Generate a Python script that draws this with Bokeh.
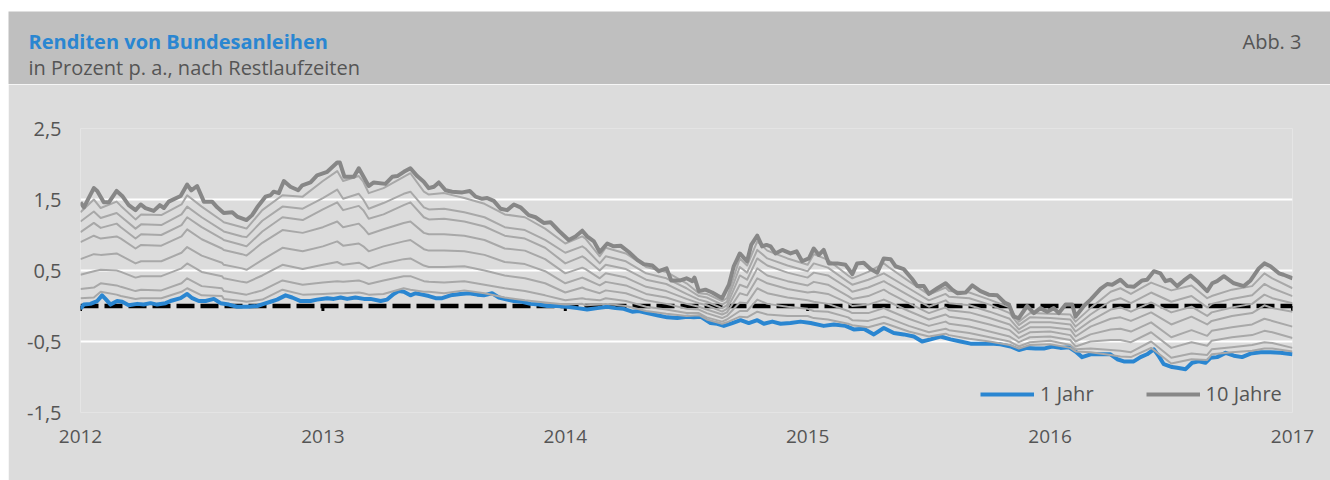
from bokeh.plotting import figure
from bokeh.models import Range1d, FixedTicker, Legend, LegendItem, Spacer
from bokeh.layouts import column, row
from bokeh.core.properties import value
from bokeh.embed import file_html
from bokeh.resources import INLINE

# ---------------- data ----------------
title = "Renditen von Bundesanleihen"
subtitle = "in Prozent p. a., nach Restlaufzeiten"
fig_label = "Abb. 3"

y_ticks = [-1.5, -0.5, 0.5, 1.5, 2.5]
y_tick_labels = ["-1,5", "-0,5", "0,5", "1,5", "2,5"]
x_ticks = [2012, 2013, 2014, 2015, 2016, 2017]
x_tick_labels = ["2012", "2013", "2014", "2015", "2016", "2017"]

legend_labels = ["1 Jahr", "10 Jahre"]

# 10 Jahre (decimal year, yield)
y10_points = [
    (2012.000, 1.46), (2012.014, 1.39), (2012.055, 1.66), (2012.069, 1.62), (2012.096, 1.46),
    (2012.117, 1.46), (2012.149, 1.62), (2012.172, 1.55), (2012.199, 1.42), (2012.227, 1.35),
    (2012.248, 1.43), (2012.268, 1.38), (2012.302, 1.34), (2012.327, 1.42), (2012.344, 1.38),
    (2012.364, 1.47), (2012.413, 1.55), (2012.440, 1.71), (2012.457, 1.63), (2012.481, 1.69),
    (2012.509, 1.47), (2012.543, 1.47), (2012.564, 1.39), (2012.591, 1.31), (2012.626, 1.32),
    (2012.646, 1.26), (2012.685, 1.21), (2012.708, 1.28), (2012.729, 1.39), (2012.763, 1.54),
    (2012.784, 1.56), (2012.797, 1.61), (2012.818, 1.59), (2012.839, 1.76), (2012.866, 1.68),
    (2012.898, 1.63), (2012.915, 1.70), (2012.949, 1.74), (2012.976, 1.84), (2013.018, 1.89),
    (2013.059, 2.02), (2013.070, 2.02), (2013.089, 1.82), (2013.128, 1.82), (2013.148, 1.94),
    (2013.189, 1.69), (2013.210, 1.74), (2013.258, 1.72), (2013.286, 1.82), (2013.307, 1.83),
    (2013.334, 1.89), (2013.361, 1.94), (2013.389, 1.83), (2013.416, 1.75), (2013.437, 1.66),
    (2013.458, 1.68), (2013.478, 1.74), (2013.506, 1.63), (2013.533, 1.61), (2013.575, 1.60),
    (2013.606, 1.62), (2013.630, 1.54), (2013.657, 1.51), (2013.678, 1.52), (2013.705, 1.48),
    (2013.733, 1.37), (2013.760, 1.35), (2013.788, 1.43), (2013.815, 1.39), (2013.849, 1.28),
    (2013.877, 1.25), (2013.911, 1.17), (2013.939, 1.18), (2013.973, 1.06), (2014.014, 0.93),
    (2014.042, 0.98), (2014.070, 1.06), (2014.090, 0.98), (2014.118, 0.91), (2014.142, 0.76),
    (2014.173, 0.88), (2014.200, 0.84), (2014.228, 0.85), (2014.262, 0.76), (2014.297, 0.65),
    (2014.324, 0.59), (2014.359, 0.57), (2014.386, 0.49), (2014.418, 0.53), (2014.437, 0.36),
    (2014.475, 0.36), (2014.500, 0.39), (2014.524, 0.35), (2014.533, 0.40), (2014.551, 0.21),
    (2014.578, 0.23), (2014.606, 0.19), (2014.647, 0.11), (2014.675, 0.30), (2014.695, 0.56),
    (2014.720, 0.74), (2014.750, 0.63), (2014.767, 0.86), (2014.792, 0.99), (2014.812, 0.84),
    (2014.830, 0.86), (2014.847, 0.84), (2014.867, 0.74), (2014.895, 0.79), (2014.929, 0.74),
    (2014.954, 0.77), (2014.977, 0.63), (2015.005, 0.67), (2015.025, 0.81), (2015.046, 0.72),
    (2015.066, 0.79), (2015.087, 0.60), (2015.122, 0.60), (2015.156, 0.58), (2015.184, 0.45),
    (2015.204, 0.60), (2015.231, 0.61), (2015.259, 0.52), (2015.287, 0.47), (2015.314, 0.67),
    (2015.342, 0.66), (2015.362, 0.56), (2015.396, 0.52), (2015.431, 0.38), (2015.452, 0.28),
    (2015.479, 0.28), (2015.500, 0.17), (2015.535, 0.25), (2015.569, 0.32), (2015.596, 0.23),
    (2015.617, 0.18), (2015.651, 0.19), (2015.679, 0.29), (2015.713, 0.21), (2015.747, 0.16),
    (2015.782, 0.15), (2015.812, 0.05), (2015.830, 0.02), (2015.850, -0.15), (2015.871, -0.17),
    (2015.905, 0.00), (2015.933, -0.10), (2015.960, -0.03), (2015.988, -0.08), (2016.015, -0.03),
    (2016.036, -0.10), (2016.064, 0.02), (2016.091, 0.02), (2016.105, -0.15), (2016.139, 0.00),
    (2016.167, 0.09), (2016.208, 0.24), (2016.236, 0.31), (2016.256, 0.30), (2016.290, 0.37),
    (2016.318, 0.28), (2016.345, 0.27), (2016.380, 0.36), (2016.400, 0.37), (2016.428, 0.49),
    (2016.455, 0.46), (2016.476, 0.35), (2016.497, 0.37), (2016.524, 0.28), (2016.552, 0.36),
    (2016.579, 0.43), (2016.613, 0.33), (2016.648, 0.21), (2016.669, 0.32), (2016.689, 0.35),
    (2016.717, 0.42), (2016.758, 0.32), (2016.799, 0.28), (2016.827, 0.36), (2016.861, 0.53),
    (2016.884, 0.60), (2016.909, 0.56), (2016.944, 0.46), (2016.963, 0.44), (2017.000, 0.39),
]

# 1 Jahr (decimal year, yield)
y1_points = [
    (2012.000, -0.04), (2012.014, 0.02), (2012.041, 0.03), (2012.069, 0.07), (2012.089, 0.15),
    (2012.103, 0.10), (2012.124, 0.02), (2012.151, 0.07), (2012.172, 0.06), (2012.199, 0.01),
    (2012.234, 0.03), (2012.261, 0.02), (2012.289, 0.04), (2012.316, 0.02), (2012.351, 0.04),
    (2012.371, 0.07), (2012.413, 0.11), (2012.440, 0.17), (2012.461, 0.11), (2012.488, 0.07),
    (2012.516, 0.07), (2012.550, 0.10), (2012.578, 0.04), (2012.612, 0.02), (2012.646, -0.01),
    (2012.688, -0.01), (2012.729, 0.00), (2012.756, 0.03), (2012.784, 0.06), (2012.811, 0.09),
    (2012.846, 0.15), (2012.873, 0.12), (2012.908, 0.07), (2012.949, 0.07), (2012.976, 0.09),
    (2013.018, 0.11), (2013.045, 0.10), (2013.073, 0.12), (2013.100, 0.10), (2013.134, 0.12),
    (2013.169, 0.10), (2013.196, 0.10), (2013.238, 0.07), (2013.265, 0.09), (2013.292, 0.17),
    (2013.313, 0.21), (2013.334, 0.20), (2013.361, 0.15), (2013.382, 0.18), (2013.410, 0.16),
    (2013.437, 0.14), (2013.465, 0.11), (2013.492, 0.11), (2013.526, 0.15), (2013.568, 0.17),
    (2013.602, 0.18), (2013.637, 0.16), (2013.664, 0.15), (2013.698, 0.18), (2013.726, 0.12),
    (2013.760, 0.09), (2013.788, 0.07), (2013.822, 0.06), (2013.856, 0.03), (2013.891, 0.02),
    (2013.925, 0.00), (2013.966, 0.00), (2014.008, -0.01), (2014.049, -0.03), (2014.090, -0.05),
    (2014.132, -0.03), (2014.173, -0.01), (2014.207, -0.03), (2014.241, -0.04), (2014.276, -0.08),
    (2014.303, -0.07), (2014.338, -0.10), (2014.379, -0.13), (2014.420, -0.16), (2014.462, -0.17),
    (2014.503, -0.15), (2014.530, -0.16), (2014.558, -0.15), (2014.599, -0.24), (2014.627, -0.25),
    (2014.654, -0.28), (2014.689, -0.24), (2014.723, -0.20), (2014.757, -0.24), (2014.792, -0.20),
    (2014.819, -0.25), (2014.854, -0.22), (2014.888, -0.25), (2014.929, -0.24), (2014.970, -0.22),
    (2015.012, -0.24), (2015.066, -0.28), (2015.108, -0.26), (2015.156, -0.28), (2015.190, -0.33),
    (2015.231, -0.32), (2015.273, -0.40), (2015.314, -0.31), (2015.355, -0.38), (2015.396, -0.40),
    (2015.438, -0.43), (2015.472, -0.50), (2015.507, -0.47), (2015.548, -0.43), (2015.589, -0.47),
    (2015.630, -0.50), (2015.672, -0.53), (2015.713, -0.53), (2015.754, -0.53), (2015.795, -0.54),
    (2015.837, -0.57), (2015.871, -0.62), (2015.905, -0.59), (2015.940, -0.60), (2015.974, -0.60),
    (2016.008, -0.57), (2016.043, -0.59), (2016.077, -0.58), (2016.105, -0.64), (2016.132, -0.72),
    (2016.167, -0.68), (2016.208, -0.68), (2016.249, -0.68), (2016.277, -0.75), (2016.304, -0.78),
    (2016.345, -0.78), (2016.373, -0.72), (2016.400, -0.68), (2016.428, -0.61), (2016.449, -0.71),
    (2016.469, -0.82), (2016.503, -0.86), (2016.524, -0.87), (2016.559, -0.89), (2016.586, -0.80),
    (2016.613, -0.78), (2016.641, -0.80), (2016.662, -0.73), (2016.689, -0.72), (2016.724, -0.66),
    (2016.758, -0.70), (2016.792, -0.72), (2016.827, -0.67), (2016.868, -0.65), (2016.909, -0.65),
    (2016.950, -0.66), (2017.000, -0.68),
]

# intermediate maturities, monthly readings Jan 2012 ... Jan 2017 (61 values each)
y9 = [1.32, 1.38, 1.41, 1.29, 1.28, 1.43, 1.40, 1.20, 1.11, 1.35,
      1.56, 1.54, 1.76, 1.76, 1.75, 1.66, 1.82, 1.61, 1.59, 1.52,
      1.44, 1.29, 1.25, 1.09, 0.88, 0.95, 0.82, 0.74, 0.55, 0.48,
      0.32, 0.17, 0.11, 0.57, 0.78, 0.67, 0.58, 0.65, 0.43, 0.48,
      0.55, 0.35, 0.16, 0.21, 0.19, 0.09, -0.02, -0.10, -0.11, -0.12,
      -0.03, 0.20, 0.17, 0.33, 0.22, 0.29, 0.14, 0.23, 0.28, 0.39,
      0.25]
y8 = [1.19, 1.24, 1.26, 1.15, 1.14, 1.29, 1.25, 1.07, 0.98, 1.20,
      1.40, 1.37, 1.52, 1.51, 1.50, 1.45, 1.58, 1.39, 1.37, 1.32,
      1.25, 1.11, 1.07, 0.93, 0.75, 0.81, 0.70, 0.63, 0.46, 0.39,
      0.25, 0.12, 0.06, 0.47, 0.67, 0.57, 0.49, 0.54, 0.34, 0.37,
      0.42, 0.25, 0.08, 0.13, 0.11, 0.02, -0.10, -0.16, -0.17, -0.19,
      -0.12, 0.07, 0.04, 0.19, 0.06, 0.14, 0.03, 0.10, 0.15, 0.25,
      0.14]
y7 = [1.04, 1.10, 1.11, 1.01, 1.00, 1.14, 1.11, 0.95, 0.86, 1.05,
      1.25, 1.21, 1.36, 1.35, 1.35, 1.29, 1.42, 1.25, 1.23, 1.19,
      1.12, 0.99, 0.95, 0.82, 0.60, 0.67, 0.58, 0.52, 0.37, 0.31,
      0.17, 0.06, 0.01, 0.37, 0.57, 0.47, 0.40, 0.43, 0.25, 0.26,
      0.31, 0.15, -0.01, 0.04, 0.01, -0.08, -0.18, -0.23, -0.23, -0.26,
      -0.21, -0.05, -0.08, 0.05, -0.09, -0.01, -0.09, -0.02, 0.03, 0.11,
      0.04]
y6 = [0.90, 0.95, 0.95, 0.86, 0.85, 0.98, 0.94, 0.81, 0.73, 0.89,
      1.07, 1.03, 1.11, 1.11, 1.10, 1.08, 1.17, 1.03, 1.01, 0.99,
      0.93, 0.81, 0.78, 0.66, 0.46, 0.52, 0.46, 0.40, 0.27, 0.21,
      0.10, 0.01, -0.04, 0.26, 0.43, 0.35, 0.29, 0.30, 0.14, 0.14,
      0.19, 0.04, -0.10, -0.06, -0.09, -0.17, -0.26, -0.30, -0.30, -0.33,
      -0.29, -0.18, -0.21, -0.09, -0.26, -0.15, -0.21, -0.14, -0.10, -0.03,
      -0.08]
y5 = [0.66, 0.72, 0.71, 0.63, 0.63, 0.75, 0.71, 0.61, 0.53, 0.65,
      0.82, 0.77, 0.84, 0.85, 0.84, 0.84, 0.91, 0.80, 0.78, 0.77,
      0.72, 0.62, 0.59, 0.49, 0.32, 0.38, 0.34, 0.29, 0.17, 0.12,
      0.03, -0.05, -0.09, 0.15, 0.32, 0.24, 0.19, 0.17, 0.04, 0.02,
      0.06, -0.07, -0.19, -0.15, -0.19, -0.26, -0.34, -0.37, -0.36, -0.41,
      -0.40, -0.33, -0.36, -0.23, -0.44, -0.34, -0.35, -0.30, -0.26, -0.21,
      -0.29]
y4 = [0.44, 0.51, 0.48, 0.42, 0.42, 0.53, 0.48, 0.42, 0.34, 0.43,
      0.58, 0.52, 0.58, 0.58, 0.58, 0.60, 0.66, 0.57, 0.55, 0.56,
      0.50, 0.43, 0.39, 0.32, 0.19, 0.24, 0.22, 0.18, 0.08, 0.03,
      -0.04, -0.10, -0.14, 0.04, 0.18, 0.12, 0.08, 0.03, -0.07, -0.10,
      -0.06, -0.18, -0.28, -0.25, -0.29, -0.36, -0.43, -0.44, -0.43, -0.48,
      -0.50, -0.48, -0.51, -0.37, -0.59, -0.51, -0.49, -0.44, -0.41, -0.37,
      -0.45]
y3 = [0.24, 0.32, 0.27, 0.23, 0.22, 0.32, 0.28, 0.25, 0.17, 0.22,
      0.36, 0.30, 0.33, 0.34, 0.34, 0.36, 0.42, 0.35, 0.33, 0.35,
      0.30, 0.25, 0.21, 0.15, 0.08, 0.10, 0.11, 0.07, -0.01, -0.05,
      -0.10, -0.16, -0.19, -0.07, 0.03, -0.01, -0.04, -0.08, -0.16, -0.21,
      -0.17, -0.28, -0.37, -0.34, -0.38, -0.44, -0.50, -0.51, -0.49, -0.55,
      -0.60, -0.62, -0.65, -0.50, -0.73, -0.67, -0.61, -0.58, -0.55, -0.52,
      -0.59]
y2 = [0.11, 0.20, 0.14, 0.11, 0.11, 0.20, 0.15, 0.14, 0.07, 0.09,
      0.23, 0.16, 0.17, 0.18, 0.18, 0.17, 0.25, 0.20, 0.18, 0.22,
      0.18, 0.12, 0.08, 0.05, 0.02, 0.01, 0.03, 0.00, -0.07, -0.11,
      -0.14, -0.19, -0.23, -0.16, -0.12, -0.14, -0.14, -0.19, -0.25, -0.30,
      -0.26, -0.36, -0.43, -0.41, -0.46, -0.50, -0.55, -0.55, -0.54, -0.59,
      -0.65, -0.69, -0.72, -0.59, -0.81, -0.75, -0.68, -0.65, -0.63, -0.60,
      -0.64]

# additional readings of the intermediate lines at the sharp turning points
extra_t = [2012.055, 2012.149, 2012.227, 2012.440, 2012.591, 2012.685, 2013.059, 2013.148,
           2013.189, 2013.361, 2013.437, 2014.070, 2014.142, 2014.551, 2014.647, 2014.720,
           2014.792, 2015.025, 2015.184, 2015.314, 2015.569, 2015.871, 2016.105, 2016.290,
           2016.648, 2016.884]
extra9 = [1.50, 1.47, 1.22, 1.56, 1.18, 1.09, 1.90, 1.83, 1.59, 1.87, 1.57, 0.98, 0.70,
          0.18, 0.07, 0.67, 0.91, 0.73, 0.39, 0.60, 0.26, -0.22, -0.22, 0.25, 0.11, 0.46]
extra8 = [1.33, 1.31, 1.09, 1.40, 1.05, 0.97, 1.64, 1.58, 1.37, 1.61, 1.36, 0.84, 0.60,
          0.14, 0.02, 0.55, 0.79, 0.60, 0.30, 0.46, 0.17, -0.27, -0.29, 0.11, -0.02, 0.31]
extra7 = [1.17, 1.16, 0.95, 1.25, 0.93, 0.84, 1.46, 1.41, 1.23, 1.46, 1.22, 0.70, 0.50,
          0.09, -0.03, 0.43, 0.67, 0.47, 0.20, 0.35, 0.08, -0.33, -0.36, -0.02, -0.14, 0.16]
extra6 = [0.99, 0.98, 0.81, 1.08, 0.79, 0.71, 1.19, 1.16, 1.01, 1.19, 1.01, 0.54, 0.39,
          0.04, -0.08, 0.30, 0.53, 0.34, 0.10, 0.23, -0.02, -0.38, -0.43, -0.16, -0.26, 0.01]
extra5 = [0.73, 0.74, 0.60, 0.83, 0.58, 0.51, 0.91, 0.88, 0.77, 0.93, 0.78, 0.40, 0.29,
          -0.01, -0.12, 0.18, 0.39, 0.20, 0.00, 0.09, -0.12, -0.45, -0.50, -0.32, -0.42, -0.18]
extra4 = [0.49, 0.50, 0.40, 0.60, 0.39, 0.33, 0.62, 0.61, 0.53, 0.67, 0.55, 0.26, 0.18,
          -0.05, -0.17, 0.05, 0.25, 0.06, -0.10, -0.03, -0.22, -0.51, -0.57, -0.48, -0.56, -0.35]
extra3 = [0.26, 0.29, 0.21, 0.39, 0.21, 0.16, 0.35, 0.36, 0.31, 0.42, 0.34, 0.11, 0.08,
          -0.10, -0.22, -0.07, 0.09, -0.07, -0.20, -0.15, -0.32, -0.57, -0.61, -0.63, -0.69, -0.51]
extra2 = [0.12, 0.16, 0.10, 0.25, 0.10, 0.06, 0.18, 0.19, 0.16, 0.23, 0.20, 0.03, 0.02,
          -0.13, -0.25, -0.15, -0.08, -0.17, -0.27, -0.24, -0.39, -0.60, -0.64, -0.71, -0.76, -0.60]

months = [2012 + k / 12 for k in range(len(y9))]

# ---------------- styles ----------------
FONT = "Open Sans"
TXT = "#555555"
BLUE = "#2a86d1"
DARK = "#878787"
LIGHT = "#a8a8a8"
HEADER_BG = "#bfbfbf"
PLOT_BG = "#dcdcdc"
W = 1322          # chart width (after an 8 px white strip on the left)
HEAD_H = 73
MAIN_H = 396

# ---------------- header ----------------
header = figure(width=W, height=HEAD_H, x_range=Range1d(0, W), y_range=Range1d(0, HEAD_H),
                toolbar_location=None, output_backend="svg", min_border=0,
                x_axis_location=None, y_axis_location=None)
header.frame_align = False
header.grid.visible = False
header.outline_line_color = None
header.background_fill_color = HEADER_BG
header.border_fill_color = HEADER_BG
header.text(x=[20], y=[43], text=[title], text_font=value(FONT), text_font_style="bold",
            text_font_size="20px", text_color=BLUE, text_baseline="alphabetic")
header.text(x=[20], y=[17.5], text=[subtitle], text_font=value(FONT),
            text_font_size="20px", text_color=TXT, text_baseline="alphabetic")
header.text(x=[1293], y=[43], text=[fig_label], text_font=value(FONT),
            text_font_size="20px", text_color=TXT, text_baseline="alphabetic", text_align="right")

# ---------------- main plot ----------------
p = figure(width=W, height=MAIN_H, x_range=Range1d(x_ticks[0], x_ticks[-1]),
           y_range=Range1d(y_ticks[0], y_ticks[-1]),
           toolbar_location=None, output_backend="svg",
           min_border_left=72, min_border_right=38, min_border_top=44, min_border_bottom=68)
p.frame_align = False
p.background_fill_color = PLOT_BG
p.border_fill_color = PLOT_BG
p.outline_line_color = None

p.xgrid.visible = False
p.ygrid.ticker = FixedTicker(ticks=y_ticks)
p.ygrid.grid_line_color = "white"
p.ygrid.grid_line_width = 2

p.yaxis.ticker = FixedTicker(ticks=y_ticks)
p.yaxis.major_label_overrides = {t: l for t, l in zip(y_ticks, y_tick_labels)}
p.xaxis.ticker = FixedTicker(ticks=x_ticks)
p.xaxis.major_label_overrides = {t: l for t, l in zip(x_ticks, x_tick_labels)}
for ax in (p.xaxis, p.yaxis):
    ax.axis_line_color = None
    ax.major_tick_line_color = None
    ax.minor_tick_line_color = None
    ax.major_tick_out = 0
    ax.major_tick_in = 0
    ax.major_label_text_font = FONT
    ax.major_label_text_color = TXT
p.yaxis.major_label_text_font_size = "20px"
p.xaxis.major_label_text_font_size = "19px"
p.yaxis.major_label_standoff = 19
p.xaxis.major_label_standoff = 17

# zero line (dashed, behind the series) with small year notches
p.line(x=[x_ticks[0], x_ticks[-1]], y=[0, 0], line_color="black", line_width=4.5, line_dash="18 6")
notch = 0.07
p.segment(x0=x_ticks, y0=[0] * len(x_ticks), x1=x_ticks, y1=[-notch] * len(x_ticks),
          line_color="black", line_width=3)

t1 = [a for a, b in y1_points]
v1 = [b for a, b in y1_points]
t10 = [a for a, b in y10_points]
v10 = [b for a, b in y10_points]

r1 = p.line(t1, v1, line_color=BLUE, line_width=4, line_join="round")
for monthly, extra in ((y2, extra2), (y3, extra3), (y4, extra4), (y5, extra5),
                       (y6, extra6), (y7, extra7), (y8, extra8), (y9, extra9)):
    pts = sorted(zip(months + extra_t, monthly + extra))
    p.line([a for a, b in pts], [b for a, b in pts], line_color=LIGHT, line_width=2,
           line_join="round")
r10 = p.line(t10, v10, line_color=DARK, line_width=4, line_join="round")

legend = Legend(items=[LegendItem(label=legend_labels[0], renderers=[r1]),
                       LegendItem(label=legend_labels[1], renderers=[r10])],
                orientation="horizontal", location=(900, 5),
                background_fill_alpha=0, border_line_alpha=0,
                label_text_font=FONT, label_text_font_size="20px", label_text_color=TXT,
                glyph_width=54, glyph_height=20, label_standoff=6, spacing=52,
                padding=0, margin=0)
p.add_layout(legend)

layout = column(Spacer(width=W + 8, height=11),
                row(Spacer(width=8, height=HEAD_H), header, spacing=0),
                row(Spacer(width=8, height=MAIN_H), p, spacing=0),
                spacing=0)

open("out.html", "w").write(file_html(layout, INLINE))
